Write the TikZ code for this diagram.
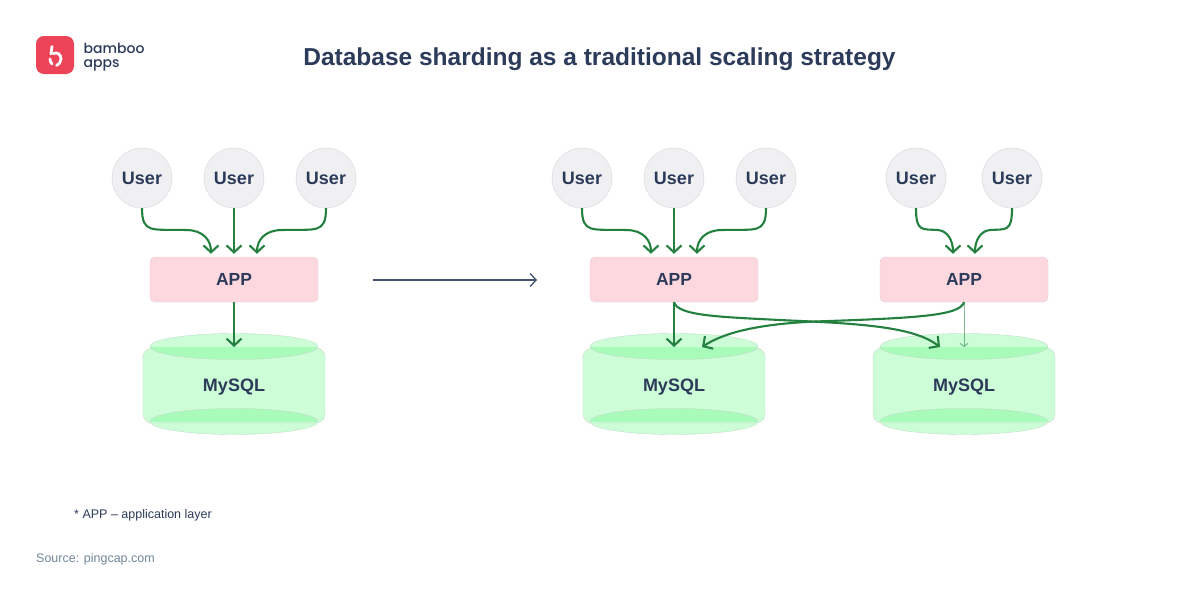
\documentclass[tikz,border=0pt]{standalone}
\usepackage{fontspec}
\setmainfont{Liberation Sans}
\newfontfamily\logofont{Poppins Medium}
\usetikzlibrary{arrows.meta,shapes.geometric}
\definecolor{inkblue}{HTML}{2D3B5A}
\definecolor{stepblue}{HTML}{44546F}
\definecolor{linkgreen}{HTML}{24803F}
\definecolor{dbfill}{HTML}{CCFDD6}
\definecolor{dbdark}{HTML}{A8FBB9}
\definecolor{dbline}{HTML}{C4DCCB}
\definecolor{appfill}{HTML}{FDD8DF}
\definecolor{appline}{HTML}{E6CCD4}
\definecolor{userfill}{HTML}{F0F0F2}
\definecolor{userline}{HTML}{D6D6DE}
\definecolor{logored}{HTML}{EC4359}
\definecolor{sourcegray}{HTML}{72879A}
\tikzset{
  user/.style={circle, draw=userline, fill=userfill, minimum size=60pt, inner sep=0pt, text=inkblue, font=\fontsize{18}{20}\selectfont\bfseries},
  app/.style={rectangle, rounded corners=5pt, draw=appline, fill=appfill, minimum width=168pt, minimum height=45pt, inner sep=0pt, text=inkblue, font=\fontsize{17.5}{20}\selectfont\bfseries},
  dbbody/.style={rectangle, rounded corners=9pt, draw=dbline, fill=dbfill, minimum width=182pt, minimum height=75pt, inner sep=0pt, text depth=0pt, text=inkblue, font=\fontsize{18}{20}\selectfont\bfseries},
  dbcap/.style={ellipse, draw=dbline, fill=dbfill, minimum width=168pt, minimum height=26pt, inner sep=0pt},
  link/.style={-{Straight Barb[length=7pt,width=15pt]}, draw=linkgreen, line width=2.1pt, shorten >=3pt},
  thinlink/.style={-{Straight Barb[length=3pt,width=8pt]}, draw=linkgreen, draw opacity=.55, line width=1pt},
}
% one database: caps, body, darker overlap
\newcommand{\database}[2]{
  \node[dbcap] (#1top) at (#2,346.5) {};
  \node[dbcap] (#1bot) at (#2,421.5) {};
  \node[dbbody] (#1) at (#2,385.5) {MySQL};
  \begin{scope}
    \clip (#2-84,347.5) rectangle (#2+84,421.5);
    \fill[dbdark] (#1top.center) ellipse [x radius=84pt, y radius=13pt];
    \fill[dbdark] (#1bot.center) ellipse [x radius=84pt, y radius=13pt];
  \end{scope}
  \draw[dbline] (#1top.west) arc [start angle=180, end angle=360, x radius=84pt, y radius=13pt];
  \draw[dbline] (#1bot.west) arc [start angle=180, end angle=0, x radius=84pt, y radius=13pt];
}
\begin{document}
\begin{tikzpicture}[x=1pt,y=-1pt]
  \useasboundingbox[fill=white] (0,0) rectangle (1200,600);

  % Logo and title
  \node[rectangle, rounded corners=8pt, fill=logored, minimum size=38pt, inner sep=0pt] (logo) at (55,55) {};
  \draw[white, line width=2.8pt, line cap=round] (52,46.5) -- (51,54);
  \draw[white, line width=2.8pt, line cap=round] (53,53.5) .. controls (58,51.5) and (61,55) .. (61,59) .. controls (61,62) and (59,64.5) .. (56.5,65.5);
  \draw[white, line width=2.8pt, line cap=round] (50,59) .. controls (50,61) and (51,63) .. (52,64);
  \node[anchor=west, align=left, text=inkblue, inner sep=0pt, font=\logofont\fontsize{14}{14}\selectfont] (brand) at (83.5,57) {bamboo\\apps};
  \node[text=inkblue, inner sep=0pt, font=\fontsize{24.5}{28}\selectfont\bfseries] (title) at (599.5,59) {Database sharding as a traditional scaling strategy};

  % Databases
  \database{dbA}{234}
  \database{dbB}{674}
  \database{dbC}{964}

  % Users
  \foreach \nm/\x in {uA/142,uB/234,uC/326,uD/582,uE/674,uF/766,uG/916,uH/1012}
    \node[user] (\nm) at (\x,178) {User};

  % Apps
  \node[app] (appA) at (234,279.5) {APP};
  \node[app] (appB) at (674,279.5) {APP};
  \node[app] (appC) at (964,279.5) {APP};

  % Arrows, left group
  \draw[link] (uA.south) .. controls +(0,26) and +(-34,-1) .. (186,230) .. controls (203,230) and (211,240) .. ([xshift=-23pt]appA.north);
  \draw[link] (uB.south) -- (appA.north);
  \draw[link] (uC.south) .. controls +(0,26) and +(34,-1) .. (282,230) .. controls (265,230) and (257,240) .. ([xshift=23pt]appA.north);
  \draw[link, shorten >=0pt] (appA.south) -- (234,347);

  % Arrows, middle group
  \draw[link] (uD.south) .. controls +(0,26) and +(-34,-1) .. (626,230) .. controls (643,230) and (651,240) .. ([xshift=-23pt]appB.north);
  \draw[link] (uE.south) -- (appB.north);
  \draw[link] (uF.south) .. controls +(0,26) and +(34,-1) .. (722,230) .. controls (705,230) and (697,240) .. ([xshift=23pt]appB.north);
  \draw[link, shorten >=0pt] (appB.south) -- (674,347);

  % Arrows, right group
  \draw[link] (uG.south) .. controls +(0,24) and +(-16,-1) .. (938,230) .. controls (948,231) and (953,241) .. ([xshift=-11pt]appC.north);
  \draw[link] (uH.south) .. controls +(0,24) and +(16,-1) .. (990,230) .. controls (980,231) and (975,241) .. ([xshift=11pt]appC.north);
  \draw[thinlink] (appC.south) -- (964,347);

  % Crossing arrows
  \draw[link, shorten >=0pt] (appB.south) .. controls (678,316) and (720,317) .. (790,320.5) .. controls (870,324) and (915,328) .. (940,347);
  \draw[link, shorten >=0pt] (appC.south) .. controls (960,316) and (915,318) .. (815,321.5) .. controls (760,324) and (725,332) .. (702,347);

  % Shard step
  \coordinate (stepA) at (373,280);
  \coordinate (stepB) at (537,280);
  \draw[-{Straight Barb[length=6pt,width=13pt]}, stepblue, line width=1.3pt] (stepA) -- (stepB);

  % Footer
  \node[anchor=west, inner sep=0pt, text=inkblue, font=\fontsize{12.5}{14}\selectfont] (note) at (74,515) {* APP -- application layer};
  \node[anchor=west, inner sep=0pt, text=sourcegray, font=\fontsize{12.5}{14}\selectfont] (source) at (36,559.5) {Source: pingcap.com};
\end{tikzpicture}
\end{document}
